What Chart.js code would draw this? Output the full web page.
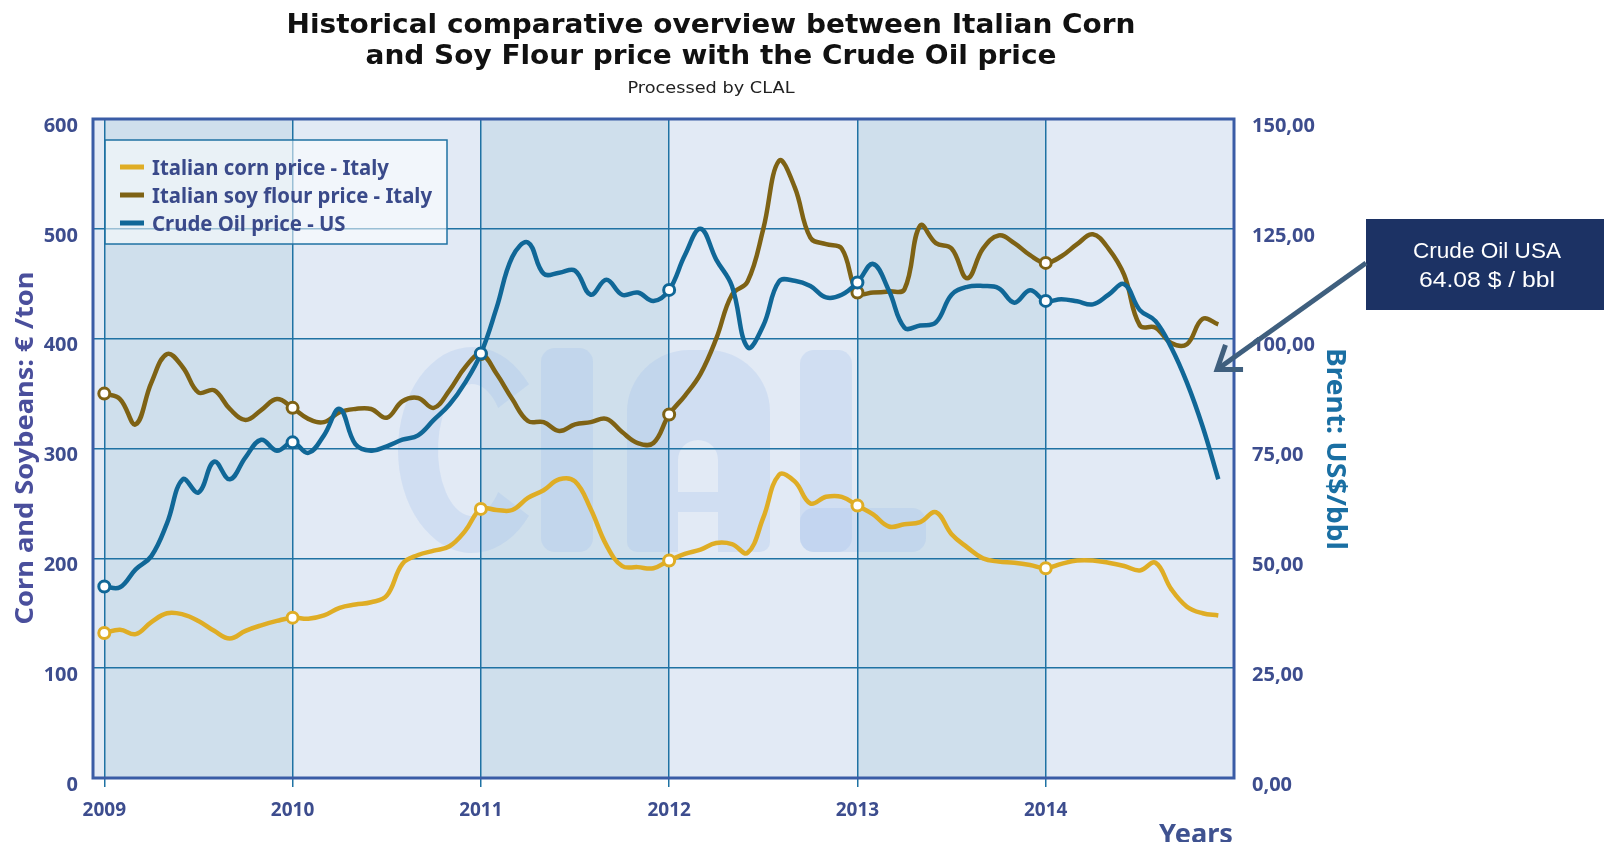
<!DOCTYPE html>
<html>
<head>
<meta charset="utf-8">
<script src="https://cdn.jsdelivr.net/npm/chart.js@4.4.1/dist/chart.umd.min.js"></script>
<style>
html,body{margin:0;padding:0;background:#fff;overflow:hidden;}
canvas{display:block;}
</style>
</head>
<body>
<canvas id="c" width="1604" height="842"></canvas>
<script>
// ---------------- DATA ----------------
const monthLabels = [];
for (let y = 2009; y <= 2014; y++) for (let m = 1; m <= 12; m++) monthLabels.push(y + '-' + String(m).padStart(2, '0'));

const yearTicks = [2009, 2010, 2011, 2012, 2013, 2014];

const seriesNames = ['Italian corn price - Italy', 'Italian soy flour price - Italy', 'Crude Oil price - US'];

// Italian corn price (€/ton), monthly Jan 2009 - Dec 2014
const cornPrice = [
  132,135,131,142,150,149,143,134,127,134,139,143,
  146,145,148,155,158,160,166,195,203,207,211,225,
  245,244,244,255,262,272,270,245,212,193,192,191,
  198,204,208,214,213,205,237,276,270,250,256,256,
  248,240,229,231,233,242,222,210,200,197,196,194,
  191,195,198,198,196,193,189,196,172,156,150,148
];
// Italian soy flour price (€/ton)
const soyFlourPrice = [
  350,345,322,360,386,374,351,353,336,326,335,345,
  337,327,324,333,336,336,328,343,346,337,353,374,
  386,368,345,325,324,316,322,324,327,315,305,305,
  331,348,368,400,440,452,500,562,538,492,486,482,
  442,442,443,445,503,487,482,455,482,494,487,476,
  469,475,486,495,482,458,412,410,396,395,418,413
];
// Crude oil price (US$/bbl)
const crudeOilPrice = [
  43.6,43.4,47.5,50.5,58,68,65,72,68,73,77,74.5,
  76.4,74,78,84,76,74.5,75.5,77,78,81.5,85,90,
  96.6,107,118.6,121.9,114.8,115,115.5,110,113.4,110,110.5,108.6,
  111.1,119,125,118,112,98,103,113,113.2,112,109.4,110,
  112.8,117,111,102.5,103,103.7,110,111.8,112,111.5,108.2,111,
  108.6,109,108.5,107.8,110,112.4,106.5,104,98,90,80,68
];

const calloutLines = ['Crude Oil USA', '64.08 $ / bbl'];

// ---------------- STYLE ----------------
const COL_CORN = '#dfad25';
const COL_SOY = '#7e6214';
const COL_OIL = '#106797';
const COL_GRID = '#1f72a3';
const COL_FRAME = '#3a5ca6';
const COL_TICK = '#3d4d8e';
const BAND_DARK = '#cfdfec';
const BAND_LIGHT = '#e2eaf5';

const toYear = s => { const p = s.split('-').map(Number); return p[0] + (p[1] - 1) / 12; };
const series = vals => vals.map((v, i) => ({ x: toYear(monthLabels[i]), y: v }));

function drawFit(ctx, text, x, y, size, weight, family, width, color, align, rot) {
  ctx.save();
  ctx.font = weight + ' ' + size + 'px ' + family;
  const m = ctx.measureText(text).width;
  const sx = width ? width / m : 1;
  ctx.translate(x, y);
  if (rot) ctx.rotate(rot);
  ctx.scale(sx, 1);
  ctx.fillStyle = color;
  ctx.textAlign = align || 'center';
  ctx.textBaseline = 'alphabetic';
  ctx.fillText(text, 0, 0);
  ctx.restore();
}

const decor = {
  id: 'decor',
  beforeDraw(chart) {
    const { ctx, chartArea: a, scales: { x } } = chart;
    ctx.save();
    const edges = [a.left].concat(yearTicks.map(v => x.getPixelForValue(v)), [a.right]);
    for (let i = 0; i < edges.length - 1; i++) {
      ctx.fillStyle = (i % 2 === 1) ? BAND_DARK : BAND_LIGHT;
      ctx.fillRect(edges[i], a.top, edges[i + 1] - edges[i], a.bottom - a.top);
    }
    // faint CLAL watermark
    ctx.fillStyle = 'rgba(160,190,235,0.26)';
    ctx.beginPath();
    ctx.ellipse(472, 450, 74, 103, 0, Math.PI * 0.22, Math.PI * 1.78, false);
    ctx.ellipse(472, 450, 34, 66, 0, Math.PI * 1.78, Math.PI * 0.22, true);
    ctx.closePath();
    ctx.fill();
    ctx.beginPath(); ctx.roundRect(541, 348, 52, 204, 14); ctx.fill();
    ctx.beginPath();
    ctx.roundRect(627, 350, 143, 202, [62, 62, 10, 10]);
    ctx.roundRect(678, 440, 40, 52, [20, 20, 0, 0]);
    ctx.rect(678, 512, 40, 40);
    ctx.fill('evenodd');
    ctx.beginPath(); ctx.roundRect(800, 350, 52, 202, 14); ctx.fill();
    ctx.beginPath(); ctx.roundRect(800, 508, 126, 44, 14); ctx.fill();
    ctx.restore();
  },
  afterDraw(chart) {
    const { ctx, chartArea: a, scales: { x, y2 } } = chart;
    ctx.save();
    // frame
    ctx.strokeStyle = COL_FRAME; ctx.lineWidth = 3;
    ctx.strokeRect(a.left, a.top, a.right - a.left, a.bottom - a.top);

    // legend
    ctx.fillStyle = 'rgba(255,255,255,0.55)';
    ctx.fillRect(105, 140, 342, 104);
    ctx.strokeStyle = COL_GRID; ctx.lineWidth = 1.5;
    ctx.strokeRect(105, 140, 342, 104);
    const legCols = [COL_CORN, COL_SOY, COL_OIL];
    ctx.font = 'bold 22px "Noto Sans"';
    const legScale = 280 / ctx.measureText(seriesNames[1]).width;
    for (let i = 0; i < 3; i++) {
      const yc = 167 + i * 28;
      ctx.fillStyle = legCols[i];
      ctx.fillRect(120, yc - 2.5, 24, 5);
      ctx.save();
      ctx.translate(152, yc + 8);
      ctx.scale(legScale, 1);
      ctx.fillStyle = '#3a4a8a';
      ctx.textAlign = 'left'; ctx.textBaseline = 'alphabetic';
      ctx.fillText(seriesNames[i], 0, 0);
      ctx.restore();
    }

    // titles
    drawFit(ctx, 'Historical comparative overview between Italian Corn', 711, 33, 27, 'bold', '"DejaVu Sans"', 849, '#111');
    drawFit(ctx, 'and Soy Flour price with the Crude Oil price', 711, 64, 27, 'bold', '"DejaVu Sans"', 691, '#111');
    drawFit(ctx, 'Processed by CLAL', 711, 93, 15, 'normal', '"DejaVu Sans"', 167, '#222');

    // axis titles
    drawFit(ctx, 'Corn and Soybeans: € /ton', 33, 448, 25, 'bold', '"Noto Sans"', 353, '#4a4f9c', 'center', -Math.PI / 2);
    drawFit(ctx, 'Brent: US$/bbl', 1327, 449, 26, 'bold', '"Noto Sans"', 202, '#1a6fa3', 'center', Math.PI / 2);
    drawFit(ctx, 'Years', 1233, 843, 26, 'bold', '"Noto Sans"', 74, '#3f5290', 'right');

    // callout
    ctx.fillStyle = '#1c3264';
    ctx.fillRect(1366, 219, 238, 91);
    drawFit(ctx, calloutLines[0], 1487, 258, 22, 'normal', '"Liberation Sans"', 148, '#fff');
    drawFit(ctx, calloutLines[1], 1487, 287, 22, 'normal', '"Liberation Sans"', 136, '#fff');

    // arrow
    const tipX = x.getPixelForValue(2014.91);
    const tipY = y2.getPixelForValue(93);
    const sx = 1366, sy = 263;
    const ang = Math.atan2(sy - tipY, sx - tipX);
    ctx.strokeStyle = '#3f5f7e'; ctx.lineWidth = 5; ctx.lineCap = 'butt';
    ctx.beginPath(); ctx.moveTo(sx, sy); ctx.lineTo(tipX + 3 * Math.cos(ang), tipY + 3 * Math.sin(ang)); ctx.stroke();
    ctx.lineJoin = 'miter';
    ctx.beginPath();
    const L = 26, sp = 0.62;
    ctx.moveTo(tipX + L * Math.cos(ang - sp), tipY + L * Math.sin(ang - sp));
    ctx.lineTo(tipX, tipY);
    ctx.lineTo(tipX + L * Math.cos(ang + sp), tipY + L * Math.sin(ang + sp));
    ctx.stroke();
    ctx.restore();
  }
};

const ptRadius = ctx => (ctx.dataIndex % 12 === 0 ? 5.5 : 0);
function ds(label, vals, col, axis, order) {
  return {
    label: label, data: series(vals), yAxisID: axis, order: order,
    borderColor: col, borderWidth: 4.5, tension: 0.4, fill: false,
    pointRadius: ptRadius, pointHoverRadius: 0, pointBackgroundColor: '#fff',
    pointBorderColor: col, pointBorderWidth: 3
  };
}

new Chart(document.getElementById('c'), {
  type: 'line',
  data: {
    datasets: [
      ds(seriesNames[0], cornPrice, COL_CORN, 'y', 2),
      ds(seriesNames[1], soyFlourPrice, COL_SOY, 'y', 1),
      ds(seriesNames[2], crudeOilPrice, COL_OIL, 'y2', 0)
    ]
  },
  options: {
    responsive: false,
    devicePixelRatio: 1,
    animation: false,
    events: [],
    layout: { padding: { left: 0, right: 230, top: 119, bottom: 24 } },
    plugins: { legend: { display: false }, tooltip: { enabled: false }, title: { display: false } },
    scales: {
      x: {
        type: 'linear', position: 'bottom', min: 2008.94, max: 2015.0,
        afterBuildTicks: s => { s.ticks = yearTicks.map(v => ({ value: v })); },
        afterFit: s => { s.height = 40; },
        ticks: { autoSkip: false, maxRotation: 0, padding: 12, color: COL_TICK,
          font: { family: '"Noto Sans"', size: 19, weight: 'bold' }, callback: v => String(v) },
        grid: { color: COL_GRID, lineWidth: 1.5, tickLength: 9, tickColor: COL_GRID, drawOnChartArea: true },
        border: { display: false }
      },
      y: {
        position: 'left', min: 0, max: 600,
        afterFit: s => { s.width = 93; },
        ticks: { stepSize: 100, padding: 15, labelOffset: 7, color: COL_TICK,
          font: { family: '"Noto Sans"', size: 20, weight: 'bold' } },
        grid: { color: COL_GRID, lineWidth: 1.5, drawTicks: false },
        border: { display: false }
      },
      y2: {
        position: 'right', min: 0, max: 150,
        afterFit: s => { s.width = 140; },
        ticks: { stepSize: 25, padding: 18, labelOffset: 7, color: COL_TICK,
          font: { family: '"Noto Sans"', size: 20, weight: 'bold' },
          callback: v => v.toFixed(2).replace('.', ',') },
        grid: { drawOnChartArea: false, drawTicks: false },
        border: { display: false }
      }
    }
  },
  plugins: [decor]
});
</script>
</body>
</html>
